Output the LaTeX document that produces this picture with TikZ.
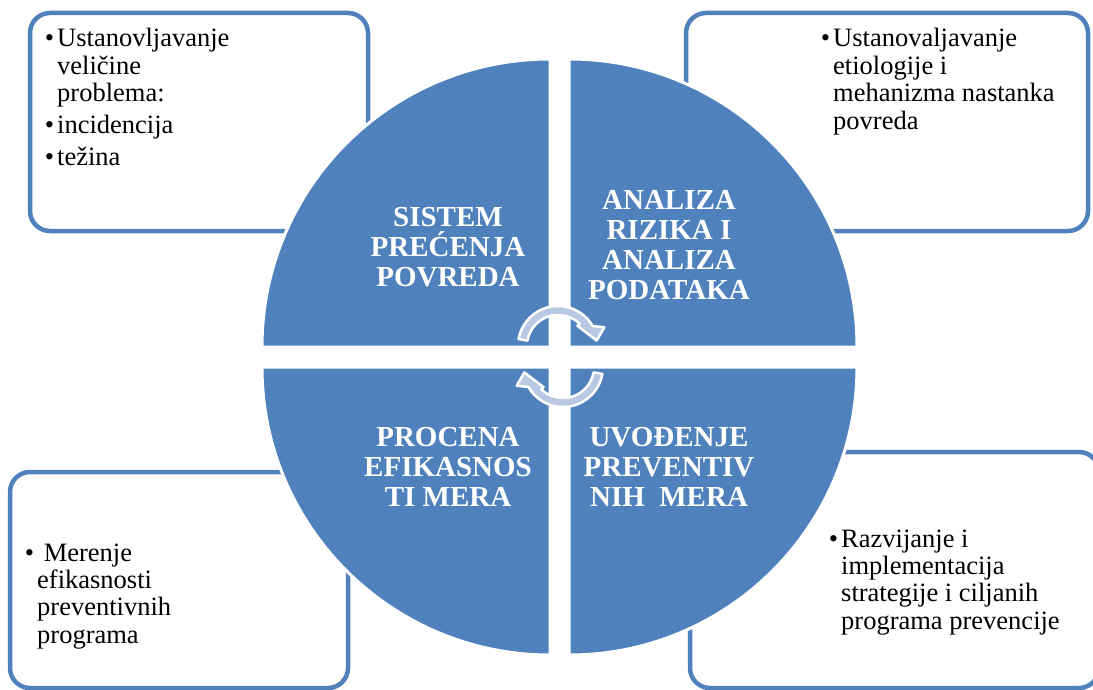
\documentclass[tikz,border=0pt]{standalone}
\usepackage{fontspec}
\setmainfont{Liberation Serif}[BoldFont={Liberation Serif Bold}]
\usetikzlibrary{calc}
\definecolor{qblue}{HTML}{4F81BD}
\definecolor{arrowfill}{HTML}{B9C9E3}
\newcommand{\bul}{\leavevmode\llap{•\hspace{3pt}}}
\begin{document}
\begin{tikzpicture}[x=1pt,y=-1pt,
  box/.style={draw=qblue, line width=4.5pt, fill=white, rounded corners=20pt},
  quad/.style={fill=qblue, draw=white, line width=3pt},
  cyc/.style={fill=arrowfill, draw=white, line width=2.5pt, line join=round},
  lbl/.style={text=white, inner sep=0pt, anchor=base, font=\fontsize{29}{30}\selectfont\bfseries},
  txt/.style={inner sep=0pt, anchor=base west, font=\fontsize{26.5}{27.4}\selectfont}]
\useasboundingbox (0,0) rectangle (1093,690);
\clip (0,0) rectangle (1093,690);
\fill[white] (0,0) rectangle (1093,690);

% outer boxes
\draw[box] (30,13) rectangle (368,231);
\draw[box] (686,13) rectangle (1088,231);
\draw[box] (10,472) rectangle (348,688);
\draw[box] (690,452) rectangle (1099,688);

% quadrants
\path[quad] (550,347) -- (262,347) arc[start angle=180,end angle=90,radius=288pt] -- cycle;
\path[quad] (569,347) -- (569,59) arc[start angle=90,end angle=0,radius=288pt] -- cycle;
\path[quad] (569,367) -- (857,367) arc[start angle=0,end angle=-90,radius=288pt] -- cycle;
\path[quad] (550,367) -- (550,655) arc[start angle=270,end angle=180,radius=288pt] -- cycle;

% quadrant labels
\node[lbl] (q1) at (448,226) {\parbox[t]{220pt}{\centering SISTEM\\ PREĆENJA\\ POVREDA}};
\node[lbl] (q2) at (669,210) {\parbox[t]{220pt}{\centering ANALIZA\\ RIZIKA I\\ ANALIZA\\ PODATAKA}};
\node[lbl] (q3) at (448,446) {\parbox[t]{220pt}{\centering PROCENA\\ EFIKASNOS\\ TI MERA}};
\node[lbl] (q4) at (669,446) {\parbox[t]{220pt}{\centering UVOĐENJE\\ PREVENTIV\\ NIH\ \ MERA}};

% circular arrows
\coordinate (c1) at (558,346);
\coordinate (c2) at (563,367);
\path[cyc] ($(c1)+(170:40pt)$) arc[start angle=170,end angle=30,radius=40pt]
  -- ($(c1)+(22:50pt)$) -- ($(c1)+(8:39pt)$) -- ($(c1)+(46:28pt)$)
  -- ($(c1)+(46:31pt)$) arc[start angle=46,end angle=170,radius=31pt] -- cycle;
\path[cyc] ($(c2)+(-10:40pt)$) arc[start angle=-10,end angle=-150,radius=40pt]
  -- ($(c2)+(-158:50pt)$) -- ($(c2)+(-172:39pt)$) -- ($(c2)+(-134:28pt)$)
  -- ($(c2)+(-134:31pt)$) arc[start angle=-134,end angle=-10,radius=31pt] -- cycle;

% box texts
\node[txt] (tltext) at (57,47) {\parbox[t]{300pt}{\raggedright
  \bul Ustanovljavanje\\ veličine\\ problema:\\[4.5pt]
  \bul incidencija\\[4.5pt]
  \bul težina}};
\node[txt] (trtext) at (833,47) {\parbox[t]{300pt}{\raggedright
  \bul Ustanovaljavanje\\ etiologije i\\ mehanizma nastanka\\ povreda}};
\node[txt] (bltext) at (37,561) {\parbox[t]{300pt}{\raggedright
  \bul\ Merenje\\ efikasnosti\\ preventivnih\\ programa}};
\node[txt] (brtext) at (841,547) {\parbox[t]{300pt}{\raggedright
  \bul Razvijanje i\\ implementacija\\ strategije i ciljanih\\ programa prevencije}};
\end{tikzpicture}
\end{document}
